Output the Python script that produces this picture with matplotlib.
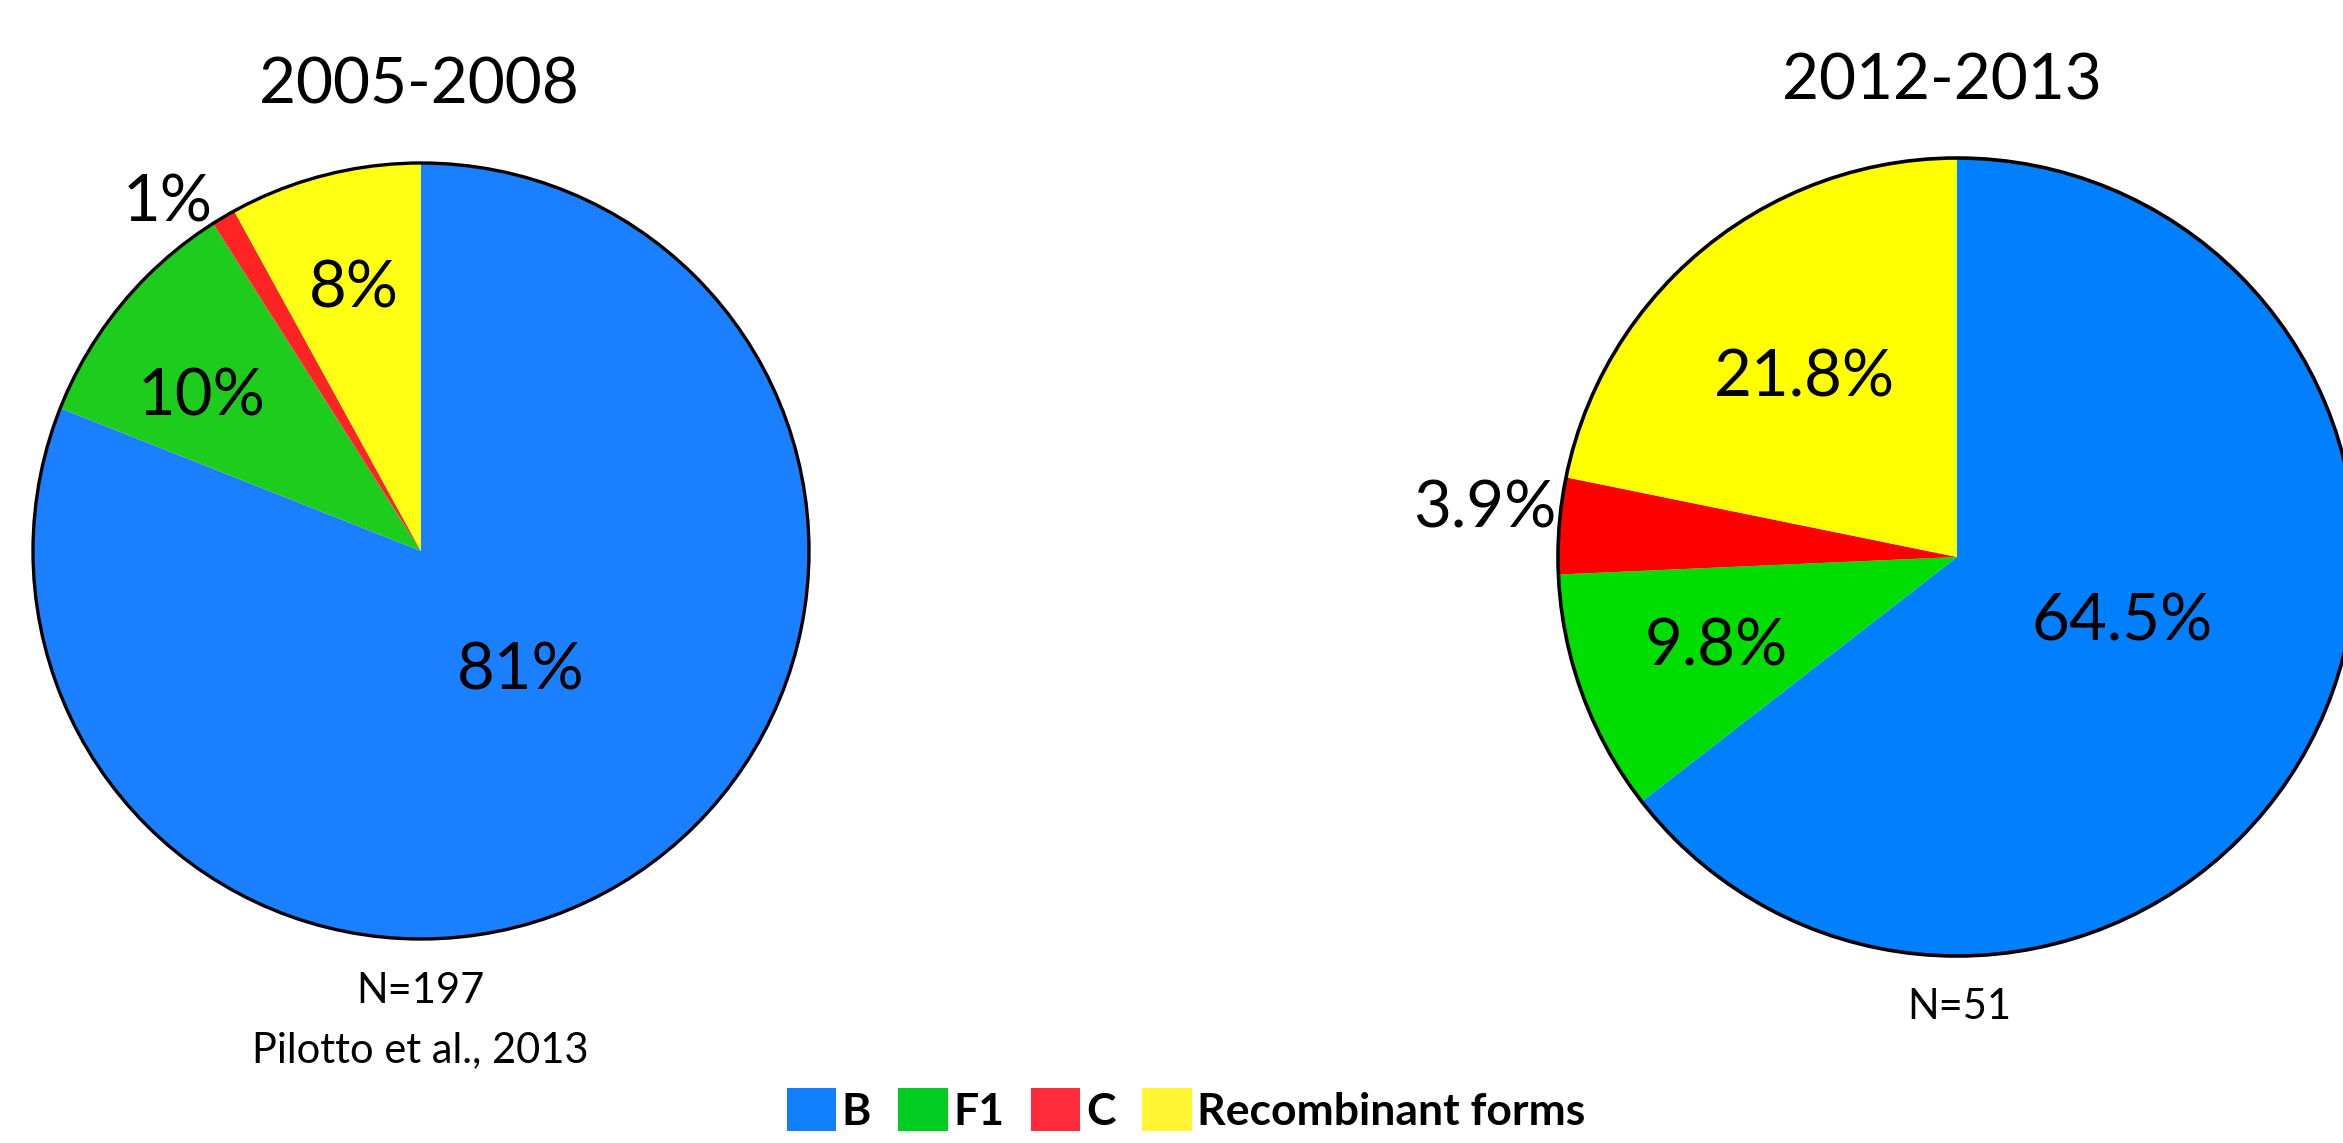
import numpy as np
import matplotlib
matplotlib.use("Agg")
import matplotlib.pyplot as plt
from matplotlib.patches import Circle, Patch

# --- data ---
categories = ["B", "F1", "C", "Recombinant forms"]
share_2005 = [81, 10, 1, 8]
share_2012 = [64.5, 9.8, 3.9, 21.8]
title_2005 = "2005-2008"
title_2012 = "2012-2013"
note_2005 = ["N=197", "Pilotto et al., 2013"]
note_2012 = ["N=51"]

# --- style ---
W, H = 2343, 1143
colors_2005 = ["#1A80FF", "#1ECC1E", "#FF2424", "#FFFF14"]
colors_2012 = ["#0080FF", "#00DD00", "#FF0000", "#FFFF00"]
legend_colors = ["#1080FF", "#00CC22", "#FF2A3A", "#FFF530"]
# (radius fraction, angle tweak in degrees) for each slice label
label_pos_2005 = [(0.39, 6.8), (0.70, 3.6), (1.12, 5.0), (0.71, -0.4)]
label_pos_2012 = [(0.44, 6.4), (0.64, -0.9), (1.19, -2.0), (0.60, 0.5)]

plt.rcParams["font.family"] = ["Lato", "DejaVu Sans"]

fig = plt.figure(figsize=(W / 100, H / 100), dpi=100)
fig.patch.set_facecolor("white")

LIM = 1.3


def pie_axes(cx, cy, r):
    """axes placed so the unit pie has centre (cx, cy) and radius r in pixels"""
    side = 2 * LIM * r
    return fig.add_axes([(cx - LIM * r) / W, 1 - (cy + LIM * r) / H, side / W, side / H])


def draw_pie(ax, values, colors, label_pos, lw):
    wedges, _ = ax.pie(values, colors=colors, startangle=90, counterclock=False,
                       wedgeprops=dict(linewidth=0))
    ax.add_patch(Circle((0, 0), 1, fill=False, edgecolor="black", linewidth=lw, zorder=3))
    for w, v, (rf, dang) in zip(wedges, values, label_pos):
        ang = np.deg2rad((w.theta1 + w.theta2) / 2 + dang)
        ax.text(rf * np.cos(ang), rf * np.sin(ang), f"{v:g}%", fontsize=47,
                ha="center", va="center_baseline", clip_on=False, zorder=4)
    ax.set_xlim(-LIM, LIM)
    ax.set_ylim(-LIM, LIM)
    ax.set_aspect("equal")
    ax.axis("off")


ax1 = pie_axes(421, 551, 388)
draw_pie(ax1, share_2005, colors_2005, label_pos_2005, 2.4)
ax2 = pie_axes(1957, 557, 399)
draw_pie(ax2, share_2012, colors_2012, label_pos_2012, 2.6)

fig.text(419 / W, 1 - 103 / H, title_2005, fontsize=46, ha="center", va="baseline")
fig.text(1942 / W, 1 - 100 / H, title_2012, fontsize=46, ha="center", va="baseline")

for s, yb in zip(note_2005, [1003, 1062]):
    fig.text(420 / W, 1 - yb / H, s, fontsize=30, ha="center", va="baseline")
for s, yb in zip(note_2012, [1019]):
    fig.text(1959 / W, 1 - yb / H, s, fontsize=30, ha="center", va="baseline")

handles = [Patch(facecolor=c, edgecolor="none", linewidth=0) for c in legend_colors]
fig.legend(handles, categories, loc="center", bbox_to_anchor=(1186 / W, 1 - 1110 / H),
           ncol=4, frameon=False, prop=dict(weight="bold", size=32),
           handlelength=1.12, handleheight=1.12, handletextpad=0.12,
           columnspacing=0.6, borderpad=0, borderaxespad=0)

fig.savefig("out.png", dpi=100, facecolor="white")
